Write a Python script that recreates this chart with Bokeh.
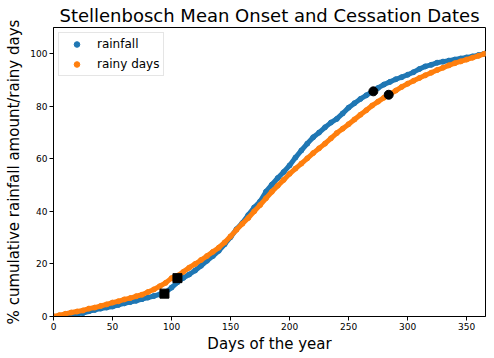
from bokeh.plotting import figure
from bokeh.models import Range1d, FixedTicker, Legend, LegendItem
from bokeh.embed import file_html
from bokeh.resources import INLINE

days = list(range(0, 366, 5))

rainfall = [0, 0, 0.4, 0.8, 1.0, 1.3, 2.0, 2.5, 3.0, 3.4, 3.8, 4.4, 5.0, 5.5, 6.0,
            6.6, 7.2, 7.8, 8.4, 9.2, 11.0, 13.0, 14.7, 16.0, 17.5, 19.3, 21.2, 23.0,
            25.0, 27.5, 30.2, 33.2, 35.6, 38.6, 41.5, 43.8, 47.5, 50.2, 52.7, 55.0,
            57.5, 60.5, 63.2, 65.8, 68.2, 70.0, 72.0, 73.8, 75.2, 77.3, 79.5, 81.2,
            82.8, 84.2, 85.6, 87.0, 88.3, 89.3, 90.3, 91.1, 92.0, 93.0, 94.2, 95.2,
            95.8, 96.6, 97.0, 97.4, 97.8, 98.2, 98.6, 99.0, 99.5, 100.0]

rainy_days = [0, 0.5, 1.0, 1.5, 1.9, 2.3, 3.0, 3.4, 4.0, 4.6, 5.3, 5.8, 6.5, 7.0,
              7.7, 8.3, 9.3, 10.3, 11.5, 12.8, 14.6, 15.5, 17.0, 18.6, 20.0, 21.5,
              23.0, 24.6, 26.2, 28.2, 30.5, 33.0, 35.3, 37.5, 40.0, 42.4, 45.0, 47.5,
              49.8, 52.0, 54.3, 56.3, 58.2, 60.2, 62.2, 64.0, 65.8, 67.8, 69.8, 71.5,
              73.2, 75.0, 76.8, 78.5, 80.3, 81.8, 83.3, 84.6, 86.0, 87.4, 88.6, 89.7,
              90.8, 91.8, 92.8, 93.8, 94.7, 95.6, 96.4, 97.1, 97.8, 98.5, 99.2, 100.0]

onset_days = [94, 105]
onset_vals = [8.7, 14.6]
cessation_days = [271, 284]
cessation_vals = [85.7, 84.4]

x_ticks = [0, 50, 100, 150, 200, 250, 300, 350]
y_ticks = [0, 20, 40, 60, 80, 100]

BLUE = "#1f77b4"
ORANGE = "#ff7f0e"
FONT = "DejaVu Sans"

p = figure(output_backend="svg", toolbar_location=None,
           frame_width=432, frame_height=289,
           min_border_left=53, min_border_top=27, min_border_bottom=38, min_border_right=5,
           x_range=Range1d(0, 366), y_range=Range1d(0, 110),
           title="Stellenbosch Mean Onset and Cessation Dates")

p.title.text_font = FONT
p.title.text_font_size = "18px"
p.title.text_font_style = "normal"
p.title.align = "center"
p.title.text_color = "black"
p.title.standoff = 3

p.xgrid.visible = False
p.ygrid.visible = False
p.outline_line_color = "black"
p.outline_line_width = 1
p.outline_line_alpha = 1

for ax in (p.xaxis[0], p.yaxis[0]):
    ax.major_label_text_font = FONT
    ax.major_label_text_font_size = "9px"
    ax.major_label_text_color = "black"
    ax.axis_label_text_font = FONT
    ax.axis_label_text_font_size = "15px"
    ax.axis_label_text_font_style = "normal"
    ax.axis_label_text_color = "black"
    ax.axis_line_color = "black"
    ax.major_tick_line_color = "black"
    ax.major_tick_in = 0
    ax.major_tick_out = 4
    ax.minor_tick_line_color = None
    ax.major_label_standoff = 2
    ax.axis_label_standoff = 2

p.yaxis.axis_label_standoff = 4
p.xaxis.ticker = FixedTicker(ticks=x_ticks)
p.yaxis.ticker = FixedTicker(ticks=y_ticks)
p.xaxis.axis_label = "Days of the year"
p.yaxis.axis_label = "% cumulative rainfall amount/rainy days"

p.line(days, rainfall, line_color=BLUE, line_width=5, line_join="round", line_cap="round")
r1 = p.scatter(days, rainfall, size=5, color=BLUE)
p.line(days, rainy_days, line_color=ORANGE, line_width=5, line_join="round", line_cap="round")
r2 = p.scatter(days, rainy_days, size=5, color=ORANGE)

p.scatter(onset_days, onset_vals, marker="square", size=9, color="black")
p.scatter(cessation_days, cessation_vals, marker="circle", size=9, color="black")

legend = Legend(items=[LegendItem(label="rainfall", renderers=[r1]),
                       LegendItem(label="rainy days", renderers=[r2])],
                location="top_left")
legend.label_text_font = FONT
legend.label_text_font_size = "12px"
legend.label_text_color = "black"
legend.border_line_color = "#cccccc"
legend.border_line_width = 1
legend.background_fill_alpha = 0.8
legend.padding = 4
legend.margin = 5
legend.spacing = 6
legend.glyph_width = 27
legend.glyph_height = 14
legend.label_height = 14
legend.label_standoff = 7
p.add_layout(legend)

open("out.html", "w").write(file_html(p, INLINE))
